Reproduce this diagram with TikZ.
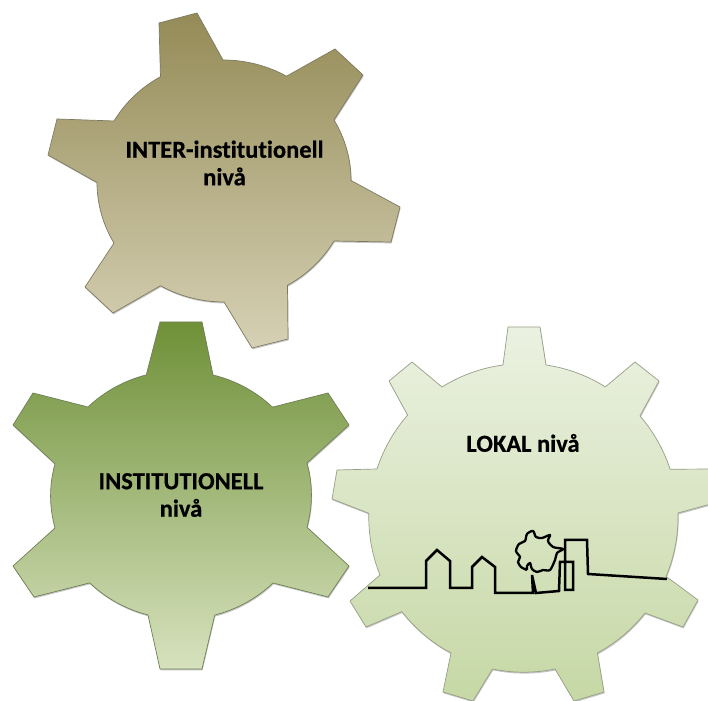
\documentclass[tikz,border=0pt]{standalone}
\usepackage{fontspec}
\setmainfont{Carlito}[Ligatures=NoCommon,BoldFeatures={FakeBold=0.6}]
\definecolor{gOneTop}{HTML}{958B57}
\definecolor{gOneBot}{HTML}{D6D1B5}
\definecolor{gOneLine}{HTML}{7D7A60}
\definecolor{gTwoTop}{HTML}{6F9038}
\definecolor{gTwoBot}{HTML}{D7E2BE}
\definecolor{gTwoLine}{HTML}{6F7F55}
\definecolor{gThreeTop}{HTML}{EBF1E1}
\definecolor{gThreeBot}{HTML}{C6D8A5}
\definecolor{gThreeLine}{HTML}{969F86}
\newcommand{\gearOne}{(159,677) -- (197,687) -- (223,640)
  arc[start angle=90,end angle=60,x radius=127pt,y radius=121pt]
  -- (335,651) -- (363,625) -- (334,580)
  arc[start angle=30,end angle=0,x radius=127pt,y radius=121pt]
  -- (400,493) -- (391,458) -- (334,459)
  arc[start angle=-30,end angle=-60,x radius=127pt,y radius=121pt]
  -- (288,361) -- (252,352) -- (224,398)
  arc[start angle=-90,end angle=-120,x radius=127pt,y radius=121pt]
  -- (113,387) -- (85,413) -- (114,457)
  arc[start angle=-150,end angle=-180,x radius=127pt,y radius=121pt]
  -- (48,545) -- (57,581) -- (114,579)
  arc[start angle=150,end angle=120,x radius=127pt,y radius=121pt]
  -- cycle}
\newcommand{\gearTwo}{(160,378) -- (202,378) -- (213,325)
  arc[start angle=75.7,end angle=45.2,x radius=130pt,y radius=124pt]
  -- (328,307) -- (349,275) -- (307,237)
  arc[start angle=15,end angle=-15,x radius=130pt,y radius=124pt]
  -- (349,134) -- (328,103) -- (273,117)
  arc[start angle=-45,end angle=-75,x radius=130pt,y radius=124pt]
  -- (202,31) -- (160,31) -- (148,85)
  arc[start angle=-105,end angle=-135,x radius=130pt,y radius=124pt]
  -- (34,103) -- (13,134) -- (55,172)
  arc[start angle=-165,end angle=-195,x radius=130pt,y radius=124pt]
  -- (13,275) -- (33,307) -- (88,293)
  arc[start angle=135,end angle=105,x radius=130pt,y radius=124pt]
  -- cycle}
\newcommand{\gearThree}{(508,373) -- (540,373) -- (546,335)
  arc[start angle=81.6,end angle=57.9,radius=154pt]
  -- (635,338) -- (659,319) -- (640,284)
  arc[start angle=40.9,end angle=18,radius=154pt]
  -- (718,231) -- (718,198) -- (678,187)
  arc[start angle=1.5,end angle=-22.7,radius=154pt]
  -- (698,100) -- (683,73) -- (645,87)
  arc[start angle=-38.3,end angle=-61.6,radius=154pt]
  -- (604,8) -- (574,-1) -- (555,31)
  arc[start angle=-78.3,end angle=-101.7,radius=154pt]
  -- (473,-1) -- (443,8) -- (451,47)
  arc[start angle=-118,end angle=-142.1,radius=154pt]
  -- (366,73) -- (350,99) -- (380,125)
  arc[start angle=-158,end angle=-181.5,radius=154pt]
  -- (332,201) -- (337,230) -- (377,231)
  arc[start angle=162,end angle=138.8,radius=154pt]
  -- (389,319) -- (412,338) -- (442,313)
  arc[start angle=122,end angle=97.7,radius=154pt]
  -- cycle}
\tikzset{
  gearshadow/.style={fill=black,fill opacity=0.22,shift={(0.6,-1.4)}},
  gearface/.style={line width=0.7pt,line join=miter},
  gearlabel/.style={font=\bfseries\fontsize{24.5}{27.5}\selectfont,align=center,text=black,inner sep=0pt},
  skyline/.style={draw=black,line width=2.5pt,line join=miter}
}
\begin{document}
\begin{tikzpicture}[x=1pt,y=1pt]
\useasboundingbox (0,0) rectangle (708,700);
\clip (0,0) rectangle (708,700);
\fill[white] (0,0) rectangle (708,700);
% top gear
\path[gearshadow] \gearOne;
\path[gearface,draw=gOneLine,top color=gOneTop,bottom color=gOneBot] \gearOne;
% left gear
\path[gearshadow] \gearTwo;
\path[gearface,draw=gTwoLine,top color=gTwoTop,bottom color=gTwoBot] \gearTwo;
% right gear
\path[gearshadow] \gearThree;
\path[gearface,draw=gThreeLine,top color=gThreeTop,bottom color=gThreeBot] \gearThree;
% labels
\node[gearlabel] (inter) at (224.5,537) {INTER-institutionell\\nivå};
\node[gearlabel] (inst) at (181,205) {INSTITUTIONELL\\nivå};
\node[gearlabel] (lokal) at (523,257) {LOKAL nivå};
% skyline
\draw[skyline] (368,112) -- (426,112) -- (426,139) -- (437,150) -- (450,139) -- (450,112)
  -- (472,112) -- (472,133) -- (482,143) -- (495,133) -- (495,107) -- (533,107)
  -- (532,125) -- (536,107) -- (559,109) -- (560,138) -- (573,138) -- (573,110)
  -- (565,110) -- (565,160) -- (587,160) -- (588,126) -- (667,121);
% tree crown
\draw[black,line width=2.3pt,line join=round] plot[smooth,tension=0.5] coordinates {
  (527,130) (521,133) (518,138) (520,143) (516,149) (519,156) (525,159) (527,166) (533,169)
  (536,163) (542,162) (550,165) (548,159) (553,153) (563,151) (557,147) (555,140) (550,130)
  (543,130) (537,128) (532,131) (530,137) (527,134) (527,130)};
\end{tikzpicture}
\end{document}
